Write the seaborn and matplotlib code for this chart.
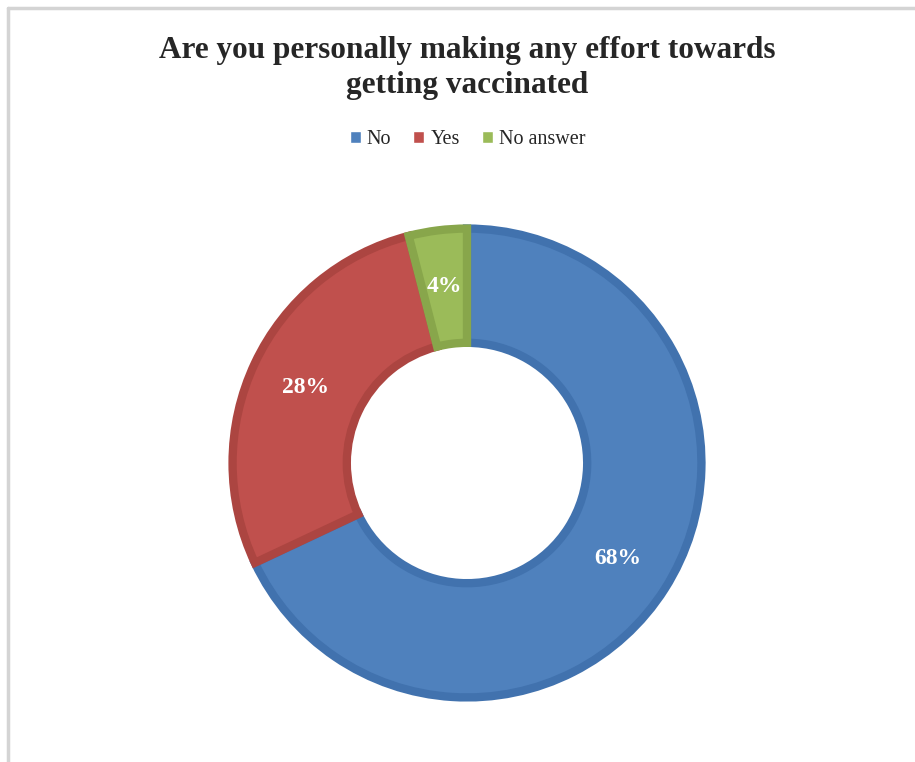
import matplotlib
matplotlib.use("Agg")
import matplotlib.pyplot as plt
import seaborn as sns
from matplotlib.lines import Line2D

# data
labels = ["No", "Yes", "No answer"]
shares = [68, 28, 4]
face_colors = ["#4F81BD", "#C0504D", "#9BBB59"]
edge_colors = ["#4172AE", "#AC4541", "#88A64B"]
title = "Are you personally making any effort towards\ngetting vaccinated"

sns.set_theme(style="white")
plt.rcParams["font.family"] = ["Liberation Serif", "DejaVu Serif"]

fig = plt.figure(figsize=(9.15, 7.62), dpi=100)
fig.patch.set_facecolor("white")

# thin grey frame on top and left edges
fig.add_artist(Line2D([8 / 915, 1], [1 - 8 / 762, 1 - 8 / 762], color="#d4d4d4", lw=2.5,
                      transform=fig.transFigure))
fig.add_artist(Line2D([8 / 915, 8 / 915], [0, 1 - 8 / 762], color="#d4d4d4", lw=2.5,
                      transform=fig.transFigure))

ax = fig.add_axes([229 / 915, 61 / 762, 476 / 915, 476 / 762])

wedges, texts, autotexts = ax.pie(
    shares,
    colors=face_colors,
    startangle=90,
    counterclock=False,
    radius=0.985,
    autopct="%d%%",
    pctdistance=0.76,
    wedgeprops=dict(width=0.48, linewidth=6),
)
for w, ec in zip(wedges, edge_colors):
    w.set_edgecolor(ec)
for t in autotexts:
    t.set_color("white")
    t.set_fontweight("bold")
    t.set_fontsize(17)

ax.set_xlim(-1, 1)
ax.set_ylim(-1, 1)
ax.set_aspect("equal")
ax.axis("off")

fig.text(0.511, 1 - 68 / 762, title, ha="center", va="center", fontsize=22.5,
         fontweight="bold", linespacing=1.3)

handles = [plt.Rectangle((0, 0), 1, 1, facecolor=c) for c in face_colors]
fig.legend(handles, labels, loc="center", bbox_to_anchor=(0.511, 1 - 140 / 762),
           ncol=3, frameon=False, fontsize=14.5, handlelength=0.55, handleheight=0.55,
           handletextpad=0.3, columnspacing=1.1)

fig.savefig("out.png", dpi=100, facecolor="white")
